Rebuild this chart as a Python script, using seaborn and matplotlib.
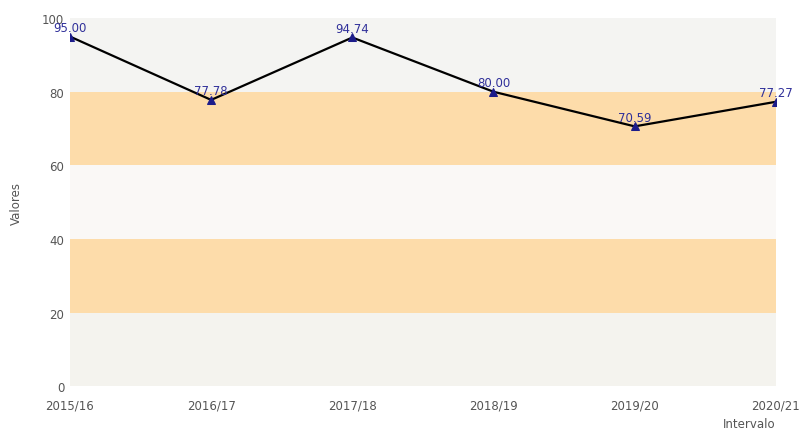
import matplotlib.pyplot as plt
import pandas as pd
import seaborn as sns

intervalos = ["2015/16", "2016/17", "2017/18", "2018/19", "2019/20", "2020/21"]
valores = [95.00, 77.78, 94.74, 80.00, 70.59, 77.27]

sns.set_style("white")
plt.rcParams["font.family"] = ["DejaVu Sans"]

df = pd.DataFrame({"Intervalo": intervalos, "Valores": valores})

fig = plt.figure(figsize=(8.04, 4.35), dpi=100)
ax = fig.add_axes([0.087, 0.110, 0.878, 0.846])

# bandas de fondo
bandas = [(0, 20, "#f4f3ee"), (20, 40, "#fddcaa"), (40, 60, "#faf8f6"),
          (60, 80, "#fddcaa"), (80, 100, "#f4f4f2")]
for y0, y1, color in bandas:
    ax.axhspan(y0, y1, color=color, lw=0, zorder=0)

sns.lineplot(data=df, x="Intervalo", y="Valores", ax=ax, color="black",
             lw=1.6, marker="^", markersize=6, markerfacecolor="#1c1c8a",
             markeredgecolor="#1c1c8a", zorder=3)

for i, v in enumerate(valores):
    ax.annotate(f"{v:.2f}", (i, v), xytext=(0, 2), textcoords="offset points",
                ha="center", va="bottom", fontsize=8.5, color="#30309a",
                zorder=4)

ax.set_xlim(0, len(intervalos) - 1)
ax.set_ylim(0, 100)
ax.set_yticks([0, 20, 40, 60, 80, 100])
ax.tick_params(axis="both", labelsize=8.5, colors="#555555", length=0, pad=4)
ax.tick_params(axis="x", pad=9)
for s in ax.spines.values():
    s.set_visible(False)

ax.set_ylabel("Valores", fontsize=8.5, color="#555555", labelpad=14)
ax.set_xlabel("Intervalo", fontsize=8.5, color="#555555")
ax.xaxis.set_label_coords(0.962, -0.085)
ax.set_xticks(range(len(intervalos)))
ax.set_xticklabels(intervalos)

fig.savefig("out.png", dpi=100)
